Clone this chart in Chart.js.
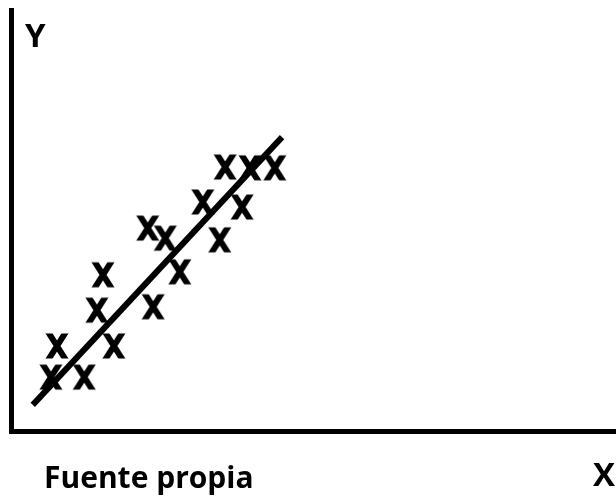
<!DOCTYPE html>
<html>
<head>
<meta charset="utf-8">
<script src="https://cdn.jsdelivr.net/npm/chart.js@4.4.1/dist/chart.umd.min.js"></script>
<style>
  body { margin: 0; background: #fff; }
  canvas { display: block; }
</style>
</head>
<body>
<canvas id="grafico" width="616" height="496"></canvas>
<script>
// puntos observados (unidades arbitrarias, 0-100 en ambos ejes)
const puntosX = [6.6, 12.1, 7.6, 17.0, 14.2, 15.2, 23.5, 22.6, 25.5, 27.9, 31.7, 34.5, 38.2, 35.4, 39.5, 43.6];
const puntosY = [12.8, 12.8, 20.2, 20.2, 28.7, 37.1, 29.5, 48.2, 45.8, 37.8, 54.4, 45.4, 53.2, 62.7, 62.5, 62.5];

// recta de ajuste
const rectaX = [3.6, 44.8];
const rectaY = [6.2, 69.8];

const ejeX = 'X';
const ejeY = 'Y';
const fuente = 'Fuente propia';

// marca en forma de "X"
function marcaX() {
    const c = document.createElement('canvas');
    c.width = 26;
    c.height = 28;
    const g = c.getContext('2d');
    g.beginPath();
    g.rect(0, 1.5, 26, 25);
    g.clip();
    g.strokeStyle = '#000';
    g.lineWidth = 6;
    g.beginPath();
    g.moveTo(3.5, -1); g.lineTo(22.5, 29);
    g.moveTo(22.5, -1); g.lineTo(3.5, 29);
    g.stroke();
    return c;
}

const textos = {
    id: 'textos',
    afterDraw(chart) {
        const ctx = chart.ctx;
        const area = chart.chartArea;
        ctx.save();
        ctx.fillStyle = '#000';
        ctx.textBaseline = 'alphabetic';
        ctx.textAlign = 'left';
        ctx.font = 'bold 33px "Open Sans"';
        ctx.fillText(ejeY, area.left + 14, area.top + 37);
        ctx.font = 'bold 30px "Open Sans"';
        ctx.fillText(fuente, 44, area.bottom + 57);
        ctx.textAlign = 'right';
        ctx.font = 'bold 33px "Open Sans"';
        ctx.fillText(ejeX, area.right - 1, area.bottom + 55);
        ctx.restore();
    }
};

const eje = {
    type: 'linear',
    min: 0,
    max: 100,
    ticks: { display: false },
    grid: { display: false, drawTicks: false },
    border: { display: true, color: '#000', width: 5 }
};

var ctx = document.getElementById('grafico').getContext('2d');
var grafico = new Chart(ctx, {
    type: 'scatter',
    data: {
        datasets: [{
            label: 'recta',
            type: 'line',
            data: rectaX.map((x, i) => ({ x: x, y: rectaY[i] })),
            borderColor: '#000',
            borderWidth: 6,
            borderCapStyle: 'butt',
            pointRadius: 0,
            fill: false
        }, {
            label: 'datos',
            data: puntosX.map((x, i) => ({ x: x, y: puntosY[i] })),
            pointStyle: marcaX(),
            pointRadius: 12,
            backgroundColor: '#000',
            borderColor: '#000'
        }]
    },
    options: {
        responsive: false,
        animation: false,
        layout: { autoPadding: false, padding: { left: 11, top: 10, right: 0, bottom: 65 } },
        plugins: {
            legend: { display: false },
            tooltip: { enabled: false }
        },
        scales: {
            x: { ...eje, position: 'bottom' },
            y: { ...eje, position: 'left' }
        }
    },
    plugins: [textos]
});
</script>
</body>
</html>
